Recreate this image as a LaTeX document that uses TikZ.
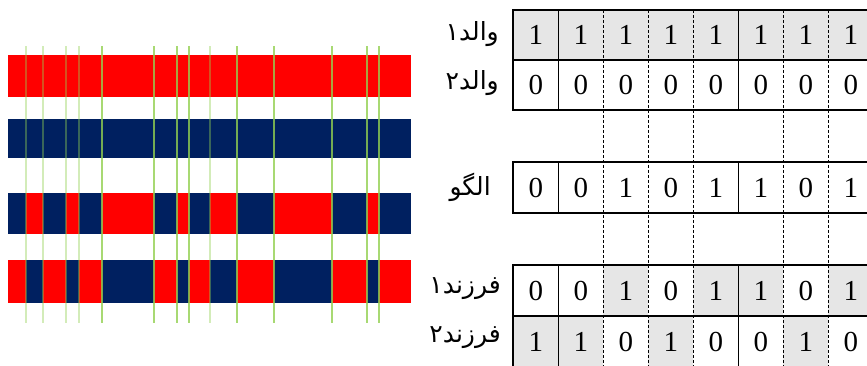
\documentclass[tikz,border=0pt]{standalone}
\usepackage{fontspec}
\setmainfont{Liberation Serif}
\newfontfamily\arabicfont[Script=Arabic]{DejaVu Sans}
\TeXXeTstate=1
\usetikzlibrary{positioning}
\definecolor{gaRed}{HTML}{FF0000}
\definecolor{gaNavy}{HTML}{002060}
\definecolor{gaGreen}{HTML}{92D050}
\definecolor{gaCell}{HTML}{E6E6E6}
\tikzset{
 chrom/.style={x=1pt,y=-1pt,line join=miter},
 digit/.style={rectangle,inner sep=0pt,minimum width=45pt,font=\fontsize{29}{29}\selectfont},
 bit0/.style={digit},
 bit1/.style={digit,fill=gaCell},
 rowlabel/.style={anchor=east,inner sep=0pt,font=\arabicfont\fontsize{25}{25}\selectfont},
 rule/.style={draw=black,line width=1.6pt},
 divider/.style={draw=black,line width=.7pt,dash pattern=on 3pt off 2pt},
 cut/.style={draw=gaGreen,line width=1.8pt,opacity=.8},
 cutfaint/.style={cut,opacity=.4}
}

\begin{document}
\begin{tikzpicture}[chrom]
 \useasboundingbox (0,0) rectangle (867,365);
 \clip (0,0) rectangle (867,365);
 % the four chromosomes
 \fill[gaRed] (8,55) rectangle (410.7,97);
 \fill[gaNavy] (8,119) rectangle (410.7,158);
 \fill[gaNavy] (8,193) rectangle (410.7,234);
 \fill[gaRed] (8,260) rectangle (410.7,303);
 \foreach \a/\b in {26/43.3,66/78.7,101.7/154,177/188.7,210/237,274.3/331.7,367/379.3}{
   \fill[gaRed] (\a,193) rectangle (\b,234);
   \fill[gaNavy] (\a,260) rectangle (\b,303);
 }
 % crossover points
 \foreach \x in {26,43.3,66,78.7,210} \draw[cutfaint] (\x,46) -- (\x,323);
 \foreach \x in {101.7,154,177,188.7,237,274.3,331.7,367,379.3} \draw[cut] (\x,46) -- (\x,323);
 % parents
 \foreach \v [count=\i] in {1,1,1,1,1,1,1,1}
   \node[bit\v,minimum height=50pt] (w1-\i) at ({490.8+45*\i},35) {\v};
 \foreach \v [count=\i] in {0,0,0,0,0,0,0,0}
   \node[bit\v,minimum height=50pt] (w2-\i) at ({490.8+45*\i},85) {\v};
 % mask
 \foreach \v [count=\i] in {0,0,1,0,1,1,0,1}
   \node[digit,minimum height=51pt] (g-\i) at ({490.8+45*\i},187.5) {\v};
 % children
 \foreach \v [count=\i] in {0,0,1,0,1,1,0,1}
   \node[bit\v,minimum height=51pt] (f1-\i) at ({490.8+45*\i},290.5) {\v};
 \foreach \v [count=\i] in {1,1,0,1,0,0,1,0}
   \node[bit\v,minimum height=51pt] (f2-\i) at ({490.8+45*\i},341.5) {\v};
 % table rules
 \draw[rule] (w1-1.north west) rectangle (w2-8.south east);
 \draw[rule] (w1-1.south west) -- (w1-8.south east);
 \draw[rule] (g-1.north west) rectangle (g-8.south east);
 \draw[rule] (f1-1.north west) rectangle (f2-8.south east);
 \draw[rule] (f1-1.south west) -- (f1-8.south east);
 \foreach \k in {1,5}{
   \draw[rule] (w1-\k.north east) -- (w2-\k.south east);
   \draw[rule] (g-\k.north east) -- (g-\k.south east);
   \draw[rule] (f1-\k.north east) -- (f2-\k.south east);
 }
 \foreach \k in {2,3,4,6,7} \draw[divider] (w1-\k.north east) -- (f2-\k.south east);
 % row names
 \node[rowlabel] (n-w1) at (499,34) {\beginR والد۱\endR};
 \node[rowlabel] (n-w2) at (499,83) {\beginR والد۲\endR};
 \node[rowlabel] (n-g) at (491,187) {\beginR الگو\endR};
 \node[rowlabel] (n-f1) at (501,289) {\beginR فرزند۱\endR};
 \node[rowlabel] (n-f2) at (501,338) {\beginR فرزند۲\endR};
\end{tikzpicture}
\end{document}
